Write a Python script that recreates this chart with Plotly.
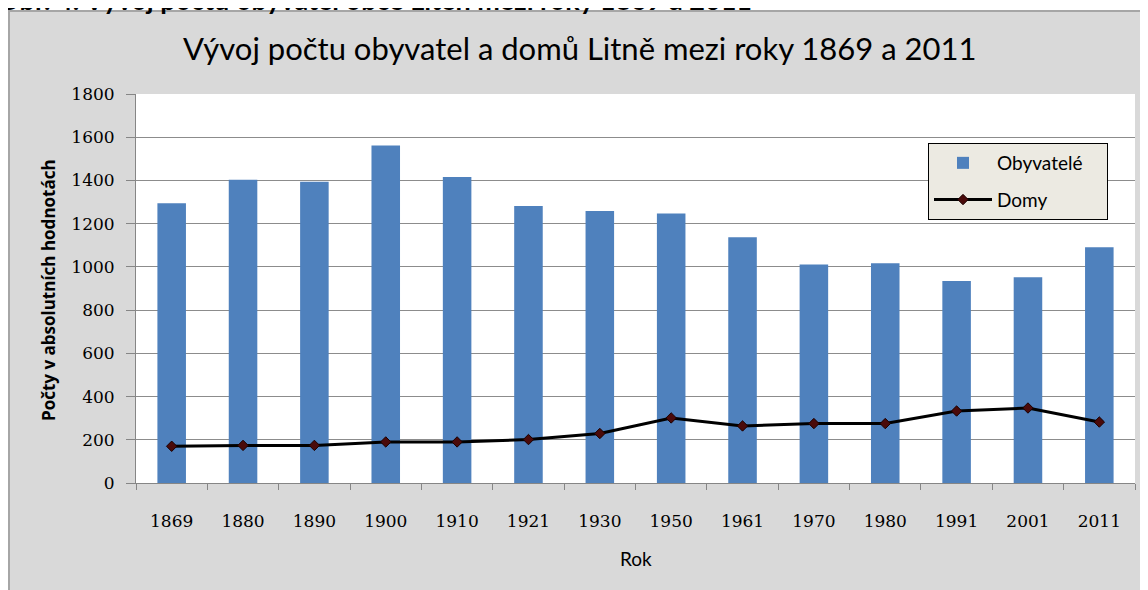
import plotly.graph_objects as go

years = ["1869", "1880", "1890", "1900", "1910", "1921", "1930", "1950",
         "1961", "1970", "1980", "1991", "2001", "2011"]
obyvatele = [1295, 1403, 1394, 1562, 1416, 1282, 1259, 1247,
             1137, 1011, 1017, 935, 952, 1091]
domy = [170, 174, 174, 190, 190, 201, 229, 301, 264, 275, 275, 333, 347, 282]

title_text = "Vývoj počtu obyvatel a domů Litně mezi roky 1869 a 2011"
caption_text = "Obr. 4: Vývoj počtu obyvatel obce Liteň mezi roky 1869 a 2011"
y_title = "Počty v absolutních hodnotách"
x_title = "Rok"
legend_pad = "\u00a0" * 4

# page has an 8px body margin; work in screen pixels and convert
OFF = 8
W, H = 1140, 582
L, R, T, B = 128, 13, 86, 107
PW, PH = W - L - R, H - T - B


def px(xs):
    return (xs - OFF - L) / PW


def py(ys):
    return (H - B - (ys - OFF)) / PH


fig = go.Figure()
fig.add_trace(go.Bar(
    x=years, y=obyvatele, name="Obyvatelé" + legend_pad, marker_color="#4F81BD",
    marker_line_width=0, width=0.4, legendgroup="a"))
fig.add_trace(go.Scatter(
    x=years, y=domy, name="Domy", mode="lines+markers",
    line=dict(color="black", width=3),
    marker=dict(symbol="diamond", size=8, color="#4a0a0a",
                line=dict(color="#1a0000", width=1)),
    legendgroup="b"))

shapes = [
    dict(type="rect", xref="paper", yref="paper", x0=px(9), x1=px(1170),
         y0=py(620), y1=py(11), fillcolor="#D9D9D9", line_width=0, layer="below"),
    dict(type="line", xref="paper", yref="paper", x0=px(8), x1=px(1170),
         y0=py(11), y1=py(11), line=dict(color="#A6A6A6", width=2), layer="below"),
    dict(type="line", xref="paper", yref="paper", x0=px(9), x1=px(9),
         y0=py(11), y1=py(620), line=dict(color="#A6A6A6", width=2), layer="below"),
    dict(type="rect", xref="paper", yref="paper", x0=0, x1=1, y0=0, y1=1,
         fillcolor="white", line_width=0, layer="below"),
]

annotations = [
    dict(text="<b>" + caption_text + "</b>", xref="paper", yref="paper",
         x=px(-4), y=py(18), xanchor="left", yanchor="bottom", showarrow=False,
         font=dict(family="Lato", size=27, color="black")),
    dict(text=title_text, xref="paper", yref="paper",
         x=px(579), y=py(48), xanchor="center", yanchor="middle", showarrow=False,
         font=dict(family="Lato", size=31, color="black")),
    dict(text=x_title, xref="paper", yref="paper",
         x=px(636), y=py(558), xanchor="center", yanchor="middle", showarrow=False,
         font=dict(family="Lato", size=19, color="black")),
    dict(text="<b>" + y_title + "</b>", xref="paper", yref="paper", textangle=-90,
         x=px(48), y=py(290), xanchor="center", yanchor="middle", showarrow=False,
         font=dict(family="Open Sans", size=17, color="black")),
]

fig.update_layout(
    width=W, height=H,
    margin=dict(l=L, r=R, t=T, b=B, autoexpand=False),
    paper_bgcolor="white", plot_bgcolor="rgba(0,0,0,0)",
    shapes=shapes, annotations=annotations,
    bargap=0.6,
    showlegend=True,
    legend=dict(x=px(928), y=py(143), xanchor="left", yanchor="top",
                bgcolor="#ECEAE2", bordercolor="black", borderwidth=1,
                font=dict(family="Lato", size=19, color="black"),
                tracegroupgap=9, itemwidth=58),
    xaxis=dict(type="category", range=[-0.5, len(years) - 0.5],
               showgrid=False, showline=True, linecolor="#868686",
               linewidth=1, ticks="outside", tickson="boundaries", ticklen=6,
               tickcolor="#868686", ticklabelstandoff=23,
               tickfont=dict(family="DejaVu Serif", size=17, color="black")),
    yaxis=dict(range=[0, 1800], dtick=200, showgrid=True, gridcolor="#8C8C8C",
               gridwidth=1, showline=True, linecolor="#868686", linewidth=1,
               ticks="outside", ticklen=9, tickcolor="#868686", zeroline=False,
               ticklabelstandoff=8,
               tickfont=dict(family="DejaVu Serif", size=17, color="black")),
)

fig.write_html("out.html")
